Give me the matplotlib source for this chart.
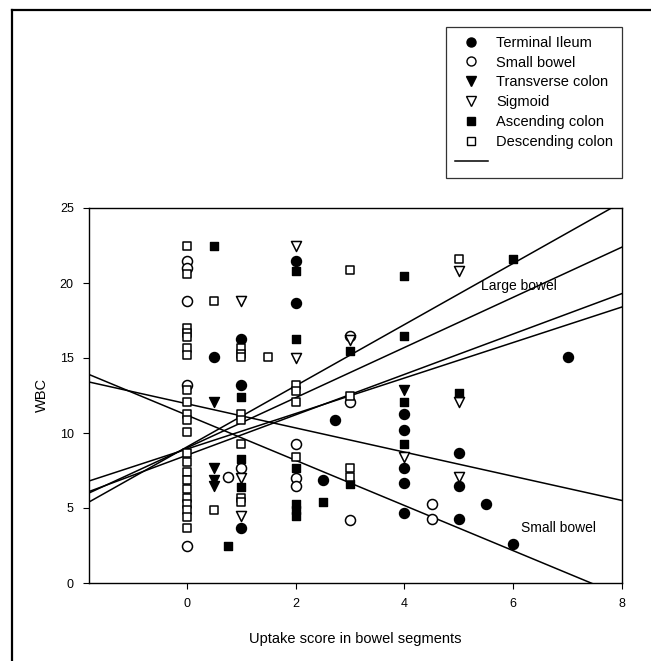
import matplotlib
matplotlib.use("Agg")
import matplotlib.pyplot as plt
from matplotlib.lines import Line2D
import numpy as np

plt.rcParams['font.family'] = ['Liberation Sans', 'DejaVu Sans']

# points: (uptake score, WBC)
ileum_x = [0.5, 1, 1, 1, 2, 2, 2.73, 2.5, 4, 4, 4, 4, 4, 5, 5, 5, 5.5, 6, 7]
ileum_y = [15.1, 16.3, 13.2, 3.7, 21.5, 18.7, 10.9, 6.9, 11.3, 10.2, 7.7, 6.7, 4.7, 8.7, 6.5, 4.3, 5.3, 2.6, 15.1]

small_x = [0, 0, 0, 0, 0, 0.75, 1, 2, 2, 2, 3, 3, 3, 4.5, 4.5]
small_y = [21.5, 21.0, 18.8, 13.2, 2.5, 7.1, 7.7, 9.3, 7.0, 6.5, 16.5, 12.1, 4.2, 5.3, 4.3]

transverse_x = [0.5, 0.5, 0.5, 0.5, 4]
transverse_y = [12.1, 7.7, 6.9, 6.5, 12.9]

sigmoid_x = [1, 1, 1, 2, 2, 3, 4, 5, 5, 5]
sigmoid_y = [18.8, 7.0, 4.5, 22.5, 15.0, 16.2, 8.4, 20.8, 12.1, 7.1]

ascending_x = [0.5, 0.75, 1, 1, 1, 2, 2, 2, 2, 2, 2, 2.5, 3, 3, 4, 4, 4, 4, 5, 6]
ascending_y = [22.5, 2.5, 12.4, 8.3, 6.4, 20.8, 16.3, 7.7, 5.3, 4.9, 4.5, 5.4, 15.5, 6.6, 20.5, 16.5, 12.1, 9.3, 12.7, 21.6]

descending_x = [0] * 22 + [0.5, 0.5, 1, 1, 1, 1, 1, 1, 1, 1, 1.5, 2, 2, 2, 2, 3, 3, 3, 3, 5]
descending_y = [22.5, 20.6, 17.0, 16.7, 16.4, 15.7, 15.2, 12.9, 12.1, 11.3, 10.9, 10.1,
                8.7, 8.1, 7.4, 6.9, 6.3, 5.7, 5.3, 4.9, 4.4, 3.7,
                18.8, 4.9, 15.7, 15.3, 15.1, 11.3, 10.9, 9.3, 5.7, 5.4, 15.1,
                13.2, 12.8, 12.1, 8.4, 20.9, 12.5, 7.7, 7.1, 21.6]

# regression lines: intercept at x=0 and slope
line_icpt = [9.07, 9.01, 8.52, 8.93, 11.95, 11.19]
line_slope = [2.04, 1.673, 1.347, 1.184, -0.806, -1.506]

fig = plt.figure(figsize=(6.51, 6.61), dpi=100)
ax = fig.add_axes([89 / 651, 78 / 661, 533 / 651, 375 / 661])

ms = 52
lw_open = 1.1
ax.scatter(ileum_x, ileum_y, s=ms, marker='o', c='black', zorder=3)
ax.scatter(small_x, small_y, s=ms, marker='o', facecolors='white', edgecolors='black', linewidths=lw_open, zorder=3)
ax.scatter(transverse_x, transverse_y, s=ms, marker='v', c='black', zorder=3)
ax.scatter(sigmoid_x, sigmoid_y, s=ms, marker='v', facecolors='white', edgecolors='black', linewidths=lw_open, zorder=3)
ax.scatter(ascending_x, ascending_y, s=ms * 0.8, marker='s', c='black', zorder=3)
ax.scatter(descending_x, descending_y, s=ms * 0.8, marker='s', facecolors='white', edgecolors='black', linewidths=lw_open, zorder=3)

xs = np.array([-1.8, 8])
for b, m in zip(line_icpt, line_slope):
    ax.plot(xs, b + m * xs, color='black', lw=1.1, zorder=2)

ax.text(5.4, 19.8, "Large bowel", fontsize=10, va='center', ha='left')
ax.text(6.15, 3.7, "Small bowel", fontsize=10, va='center', ha='left')

ax.set_xlim(-1.8, 8)
ax.set_ylim(0, 25)
ax.set_xticks([0, 2, 4, 6, 8])
ax.set_yticks([0, 5, 10, 15, 20, 25])
ax.tick_params(direction='out', length=4, width=0.8, labelsize=9, pad=7)
for s in ax.spines.values():
    s.set_linewidth(1.0)
ax.set_xlabel("Uptake score in bowel segments", fontsize=10.5, labelpad=16)
ax.set_ylabel("WBC", fontsize=10.5, labelpad=8)

handles = [
    Line2D([], [], ls='none', marker='o', color='black', markersize=6.5),
    Line2D([], [], ls='none', marker='o', mfc='white', mec='black', markersize=6.5),
    Line2D([], [], ls='none', marker='v', color='black', markersize=6.5),
    Line2D([], [], ls='none', marker='v', mfc='white', mec='black', markersize=6.5),
    Line2D([], [], ls='none', marker='s', color='black', markersize=5.5),
    Line2D([], [], ls='none', marker='s', mfc='white', mec='black', markersize=5.5),
    Line2D([], [], color='black', lw=1.1),
]
labels = ["Terminal Ileum", "Small bowel", "Transverse colon", "Sigmoid",
          "Ascending colon", "Descending colon", ""]
leg = fig.legend(handles, labels, loc='upper right', bbox_to_anchor=(622 / 651, 1 - 27 / 661),
                 fontsize=10.5, frameon=True, fancybox=False, edgecolor='black',
                 labelspacing=0.4, handlelength=2.3, handletextpad=0.55,
                 borderpad=0.6, borderaxespad=0)
leg.get_frame().set_linewidth(0.9)

# outer frame (left and top edges visible)
fig.add_artist(Line2D([12 / 651, 12 / 651], [0, 1 - 10 / 661], color='black', lw=1.6, transform=fig.transFigure))
fig.add_artist(Line2D([12 / 651, 1], [1 - 10 / 661, 1 - 10 / 661], color='black', lw=1.6, transform=fig.transFigure))

fig.savefig("out.png", dpi=100)
